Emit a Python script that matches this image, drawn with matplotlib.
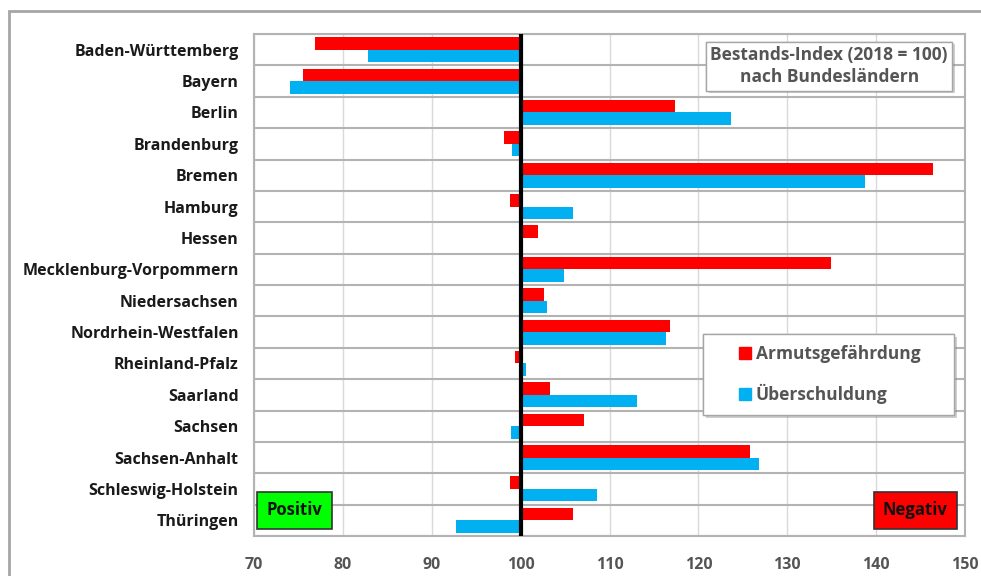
import matplotlib.pyplot as plt
import matplotlib.patches as mpatches
import matplotlib.patheffects as pe
from matplotlib.lines import Line2D
import numpy as np

plt.rcParams['font.family'] = ['Open Sans', 'DejaVu Sans']

laender = ['Baden-Württemberg', 'Bayern', 'Berlin', 'Brandenburg', 'Bremen',
           'Hamburg', 'Hessen', 'Mecklenburg-Vorpommern', 'Niedersachsen',
           'Nordrhein-Westfalen', 'Rheinland-Pfalz', 'Saarland', 'Sachsen',
           'Sachsen-Anhalt', 'Schleswig-Holstein', 'Thüringen']
armut = [76.9, 75.5, 117.4, 98.1, 146.4, 98.8, 101.9, 134.9, 102.6, 116.8,
         99.4, 103.3, 107.1, 125.8, 98.8, 105.9]
schulden = [82.8, 74.1, 123.7, 99.0, 138.8, 105.9, 100.0, 104.9, 103.0, 116.4,
            100.6, 113.1, 98.9, 126.8, 108.6, 92.7]
x_ticks = [70, 80, 90, 100, 110, 120, 130, 140, 150]

RED = '#ff0000'
BLUE = '#00b0f0'
GREY_TXT = '#555555'
shadow = [pe.withSimplePatchShadow(offset=(2, -2), shadow_rgbFace='#888888', alpha=0.4)]

fig = plt.figure(figsize=(9.81, 5.76), dpi=100)
ax = fig.add_axes([254 / 981, 1 - 536 / 576, (965 - 254) / 981, (536 - 34) / 576])

# outer frame of the chart area
fig.patches.append(mpatches.Rectangle((9 / 981, -0.1), 1.2, 1 - 11 / 576 + 0.1,
                                      transform=fig.transFigure, fill=False,
                                      edgecolor='#a6a6a6', linewidth=2))

y = np.arange(len(laender))
h = 0.4
# bars start at the 100 baseline
ax.barh(y - h / 2, np.array(armut) - 100, left=100, height=h, color=RED, zorder=3)
ax.barh(y + h / 2, np.array(schulden) - 100, left=100, height=h, color=BLUE, zorder=3)
ax.axvline(100, color='black', linewidth=3, zorder=4)

ax.set_xlim(70, 150)
ax.set_ylim(len(laender) - 0.5, -0.5)
ax.set_xticks(x_ticks)
ax.set_xticklabels([str(t) for t in x_ticks], color=GREY_TXT, fontsize=11.5,
                   fontweight='bold')
ax.set_yticks(y)
ax.set_yticklabels(laender, fontsize=11.5, fontweight='bold', color='#1a1a1a')
ax.set_yticks(np.arange(len(laender) + 1) - 0.5, minor=True)
ax.tick_params(axis='y', which='both', length=0, pad=11)
ax.tick_params(axis='x', length=0, pad=15)

ax.grid(axis='x', color='#d9d9d9', linewidth=1, zorder=0)
ax.grid(axis='y', which='minor', color='#b3b3b3', linewidth=1.5, zorder=1)
ax.grid(axis='y', which='major', visible=False)
for s in ax.spines.values():
    s.set_color('#b3b3b3')
    s.set_linewidth(1.5)

# title box
title = ax.text(0.809, 0.936, 'Bestands-Index (2018 = 100)\nnach Bundesländern',
                transform=ax.transAxes, ha='center', va='center', fontsize=12.5,
                fontweight='bold', color=GREY_TXT, linespacing=1.3, zorder=6,
                bbox=dict(boxstyle='square,pad=0.25', facecolor='white',
                          edgecolor='#a6a6a6', linewidth=1))
title.get_bbox_patch().set_path_effects(shadow + [pe.Normal()])

# legend frame drawn separately (wider than the legend's own padding)
leg_box = mpatches.Rectangle((0.6315, 0.241), 0.353, 0.161, transform=ax.transAxes,
                             facecolor='white', edgecolor='#a6a6a6', linewidth=1,
                             zorder=5)
leg_box.set_path_effects(shadow + [pe.Normal()])
ax.add_patch(leg_box)

handles = [Line2D([], [], marker='s', linestyle='none', color=RED, markersize=8),
           Line2D([], [], marker='s', linestyle='none', color=BLUE, markersize=8)]
leg = ax.legend(handles, ['Armutsgefährdung', 'Überschuldung'],
                loc='center', bbox_to_anchor=(0.808, 0.322), frameon=False,
                fontsize=12.5, labelspacing=1.2, handletextpad=0.1,
                borderpad=0, handlelength=1.0, borderaxespad=0)
for t in leg.get_texts():
    t.set_color(GREY_TXT)
    t.set_fontweight('bold')
leg.set_zorder(6)

for label, xpos, col in [('Positiv', 0.057, '#00ff00'), ('Negativ', 0.930, '#ff0000')]:
    ax.text(xpos, 0.051, label, transform=ax.transAxes, ha='center', va='center',
            fontsize=12, fontweight='bold', color='#111111', zorder=6,
            bbox=dict(boxstyle='square,pad=0.55', facecolor=col,
                      edgecolor='#333333', linewidth=1.2))

fig.savefig('out.png', dpi=100)
